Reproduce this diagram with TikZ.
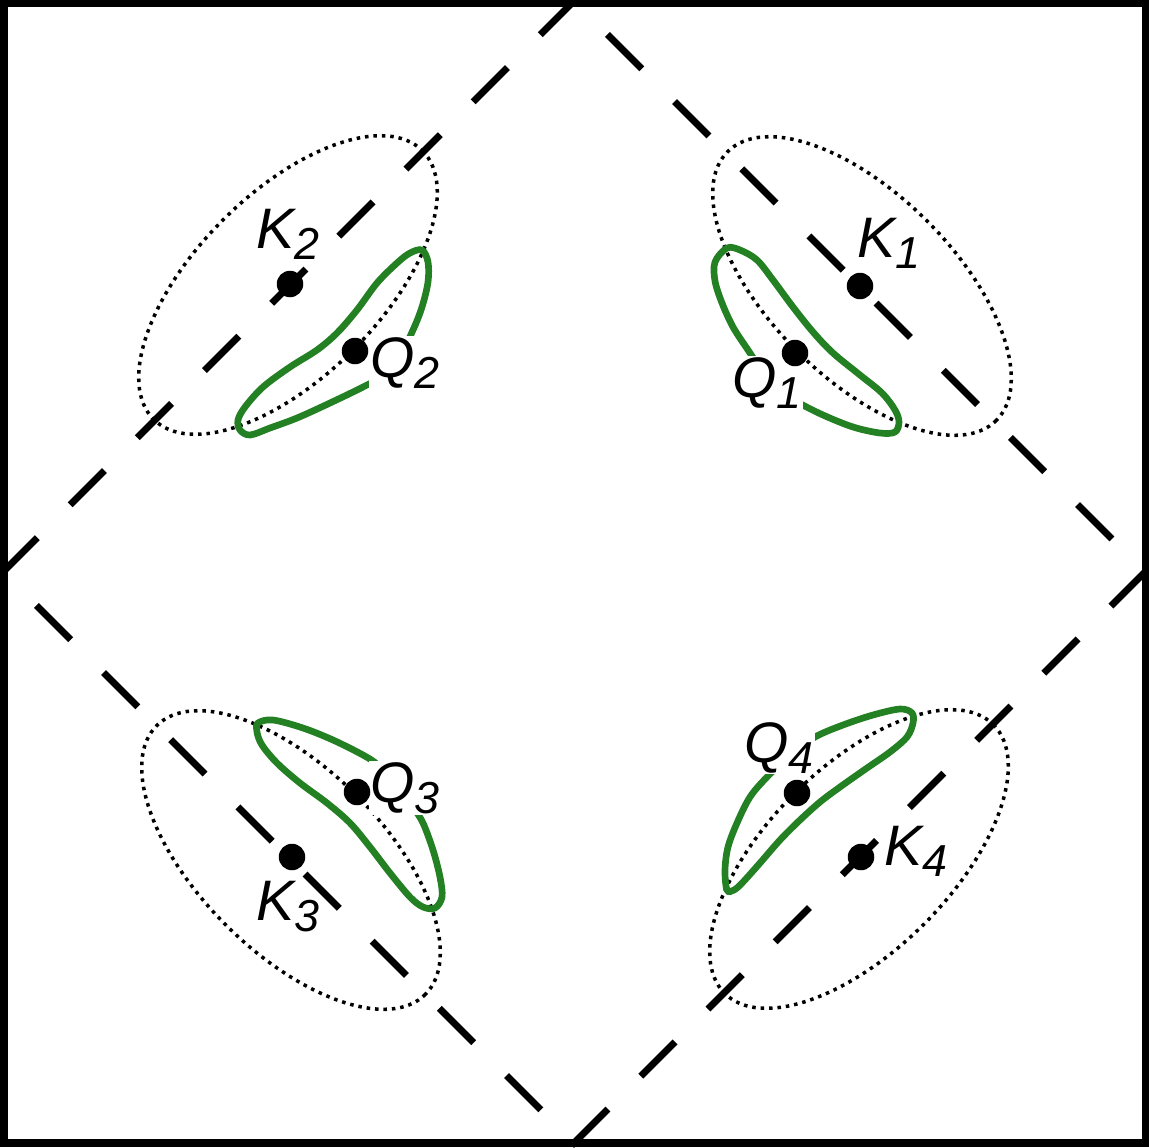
\documentclass[tikz,border=0pt]{standalone}
\usepackage{fontspec}
\setmainfont{Liberation Sans}
\definecolor{pocketgreen}{RGB}{35,128,35}
\newcommand\lsub[1]{\raisebox{-6.3pt}{\fontsize{25.5}{30}\selectfont #1}}
\begin{document}
\begin{tikzpicture}[x=0.02cm,y=-0.02cm,
  frame/.style={line width=4.3pt},
  diam/.style={line width=4pt, dash pattern=on 27.6pt off 26.46pt, line cap=butt, line join=miter},
  orbit/.style={line width=2pt, dash pattern=on 2pt off 2.8pt},
  pocket/.style={draw=pocketgreen, line width=3.8pt},
  dot/.style={circle, fill=black, inner sep=0pt, minimum size=0.53cm},
  lab/.style={inner sep=0.6pt, anchor=base west, font=\fontsize{32.5}{39}\selectfont\itshape},
  qlab/.style={lab, fill=white}]
\useasboundingbox (0,0) rectangle (1149,1147);
% dashed diamond
\begin{scope}
\clip (0,0) rectangle (1149,1147);
\draw[diam] (3,572) -- (574,1) -- (1145,572) -- (574,1143) -- cycle;
\end{scope}
% dotted ellipses
\draw[orbit, rotate around={-45:(862,286)}] (862,286) ellipse [x radius=190, y radius=92];
\draw[orbit, rotate around={45:(288,285)}] (288,285) ellipse [x radius=190, y radius=92];
\draw[orbit, rotate around={-45:(291,860)}] (291,860) ellipse [x radius=190, y radius=92];
\draw[orbit, rotate around={45:(859,859)}] (859,859) ellipse [x radius=190, y radius=92];
% green pockets
\draw[pocket] plot[smooth cycle, tension=0.55] coordinates {
 (727,248) (715,262) (715,281) (722,303) (733,327) (748,350) (765,375) (780,392) (797,402)
 (823,415) (853,427) (880,433) (895,432) (899,422) (895,410) (882,393) (860,375)
 (833,353) (813,332) (793,307) (773,280) (757,260) (740,250)};
\draw[pocket] plot[smooth cycle, tension=0.55] coordinates {
 (422,250) (428,262) (428,282) (422,307) (413,330) (400,355) (378,378) (363,387) (330,403)
 (297,418) (270,428) (250,435) (240,430) (238,420) (245,407) (263,387) (290,367)
 (317,350) (337,333) (357,310) (377,283) (397,263) (410,253)};
\draw[pocket] plot[smooth cycle, tension=0.55] coordinates {
 (258,723) (273,720) (303,728) (333,740) (363,755) (378,765) (398,785) (413,807) (423,823)
 (433,850) (440,877) (442,897) (435,908) (423,907) (410,897) (390,873) (370,847)
 (350,823) (327,803) (300,783) (277,763) (262,745) (257,732)};
\draw[pocket] plot[smooth cycle, tension=0.55] coordinates {
 (727,890) (725,870) (728,847) (737,823) (750,797) (767,777) (790,755) (815,737) (843,725)
 (873,715) (900,709) (912,713) (913,723) (907,737) (890,752) (867,768) (840,787)
 (820,802) (800,820) (780,840) (760,863) (743,882) (734,890)};
% labels
\node[lab] (lK1) at (856,257) {K\lsub{1}};
\node[lab] (lK2) at (255,248) {K\lsub{2}};
\node[lab] (lK3) at (255,920) {K\lsub{3}};
\node[lab] (lK4) at (883,865) {K\lsub{4}};
\node[qlab] (lQ1) at (731,397) {Q\lsub{1}};
\node[qlab] (lQ2) at (369,377) {Q\lsub{2}};
\node[qlab] (lQ3) at (369,802) {Q\lsub{3}};
\node[qlab] (lQ4) at (743,762) {Q\lsub{4}};
% dots
\node[dot] (K1) at (860,286) {};
\node[dot] (Q1) at (795,353) {};
\node[dot] (K2) at (290,284) {};
\node[dot] (Q2) at (355,351) {};
\node[dot] (K3) at (292,857) {};
\node[dot] (Q3) at (357,792) {};
\node[dot] (K4) at (861,857) {};
\node[dot] (Q4) at (797,793) {};
% frame
\draw[frame] (4,3.5) rectangle (1145.5,1143);
\end{tikzpicture}
\end{document}
